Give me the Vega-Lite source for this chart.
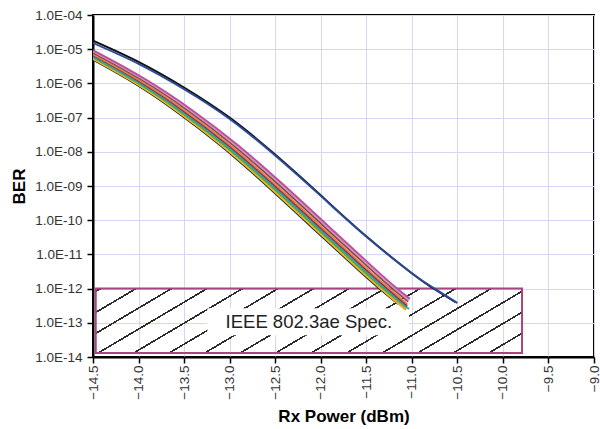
{
  "$schema": "https://vega.github.io/schema/vega-lite/v6.json",
  "width": 501,
  "height": 342,
  "autosize": {"type": "none"},
  "padding": {"left": 93, "top": 15, "right": 6, "bottom": 72},
  "background": "white",
  "config": {
    "font": "Liberation Sans",
    "view": {"stroke": "black", "strokeWidth": 2},
    "axis": {
      "domainColor": "black",
      "domainWidth": 2,
      "tickColor": "black",
      "tickWidth": 1.5,
      "tickSize": 6,
      "labelFontSize": 13.5,
      "labelColor": "#333333",
      "labelFont": "Liberation Sans",
      "gridColor": "#d6d6f2",
      "gridWidth": 1,
      "titleFont": "Liberation Sans",
      "titleFontSize": 17,
      "titleFontWeight": "bold",
      "titleColor": "black",
      "labelOverlap": false,
      "labelBound": false,
      "labelFlush": false
    }
  },
  "datasets": {
    "curves": [
      {"s": "B2", "x": -14.81, "y": 1.288e-5}, {"s": "B2", "x": -14.61, "y": 7.08e-6}, {"s": "B2", "x": -14.11, "y": 1.276e-6}, {"s": "B2", "x": -13.61, "y": 1.679e-7}, {"s": "B2", "x": -13.11, "y": 1.607e-8}, {"s": "B2", "x": -12.61, "y": 1.122e-9}, {"s": "B2", "x": -12.11, "y": 6.68e-11}, {"s": "B2", "x": -11.61, "y": 3.98e-12}, {"s": "B2", "x": -11.36, "y": 1.023e-12}, {"s": "B2", "x": -11.15, "y": 3.55e-13},
      {"s": "Y", "x": -14.795, "y": 1.288e-5}, {"s": "Y", "x": -14.595, "y": 7.08e-6}, {"s": "Y", "x": -14.095, "y": 1.276e-6}, {"s": "Y", "x": -13.595, "y": 1.679e-7}, {"s": "Y", "x": -13.095, "y": 1.607e-8}, {"s": "Y", "x": -12.595, "y": 1.122e-9}, {"s": "Y", "x": -12.095, "y": 6.68e-11}, {"s": "Y", "x": -11.595, "y": 3.98e-12}, {"s": "Y", "x": -11.345, "y": 1.023e-12}, {"s": "Y", "x": -11.07, "y": 2.4e-13},
      {"s": "O", "x": -14.78, "y": 1.288e-5}, {"s": "O", "x": -14.58, "y": 7.08e-6}, {"s": "O", "x": -14.08, "y": 1.276e-6}, {"s": "O", "x": -13.58, "y": 1.679e-7}, {"s": "O", "x": -13.08, "y": 1.607e-8}, {"s": "O", "x": -12.58, "y": 1.122e-9}, {"s": "O", "x": -12.08, "y": 6.68e-11}, {"s": "O", "x": -11.58, "y": 3.98e-12}, {"s": "O", "x": -11.33, "y": 1.023e-12}, {"s": "O", "x": -11.06, "y": 2.4e-13},
      {"s": "G", "x": -14.765, "y": 1.288e-5}, {"s": "G", "x": -14.565, "y": 7.08e-6}, {"s": "G", "x": -14.065, "y": 1.276e-6}, {"s": "G", "x": -13.565, "y": 1.679e-7}, {"s": "G", "x": -13.065, "y": 1.607e-8}, {"s": "G", "x": -12.565, "y": 1.122e-9}, {"s": "G", "x": -12.065, "y": 6.68e-11}, {"s": "G", "x": -11.565, "y": 3.98e-12}, {"s": "G", "x": -11.315, "y": 1.023e-12}, {"s": "G", "x": -11.06, "y": 2.82e-13},
      {"s": "T", "x": -14.745, "y": 1.288e-5}, {"s": "T", "x": -14.545, "y": 7.08e-6}, {"s": "T", "x": -14.045, "y": 1.276e-6}, {"s": "T", "x": -13.545, "y": 1.679e-7}, {"s": "T", "x": -13.045, "y": 1.607e-8}, {"s": "T", "x": -12.545, "y": 1.122e-9}, {"s": "T", "x": -12.045, "y": 6.68e-11}, {"s": "T", "x": -11.545, "y": 3.98e-12}, {"s": "T", "x": -11.295, "y": 1.023e-12}, {"s": "T", "x": -11.03, "y": 2.51e-13},
      {"s": "DR", "x": -14.72, "y": 1.288e-5}, {"s": "DR", "x": -14.52, "y": 7.08e-6}, {"s": "DR", "x": -14.02, "y": 1.276e-6}, {"s": "DR", "x": -13.52, "y": 1.679e-7}, {"s": "DR", "x": -13.02, "y": 1.607e-8}, {"s": "DR", "x": -12.52, "y": 1.122e-9}, {"s": "DR", "x": -12.02, "y": 6.68e-11}, {"s": "DR", "x": -11.52, "y": 3.98e-12}, {"s": "DR", "x": -11.27, "y": 1.023e-12}, {"s": "DR", "x": -11.05, "y": 3.16e-13},
      {"s": "S", "x": -14.7, "y": 1.288e-5}, {"s": "S", "x": -14.5, "y": 7.08e-6}, {"s": "S", "x": -14.0, "y": 1.276e-6}, {"s": "S", "x": -13.5, "y": 1.679e-7}, {"s": "S", "x": -13.0, "y": 1.607e-8}, {"s": "S", "x": -12.5, "y": 1.122e-9}, {"s": "S", "x": -12.0, "y": 6.68e-11}, {"s": "S", "x": -11.5, "y": 3.98e-12}, {"s": "S", "x": -11.25, "y": 1.023e-12}, {"s": "S", "x": -11.05, "y": 3.55e-13},
      {"s": "BR", "x": -14.665, "y": 1.288e-5}, {"s": "BR", "x": -14.465, "y": 7.08e-6}, {"s": "BR", "x": -13.965, "y": 1.276e-6}, {"s": "BR", "x": -13.465, "y": 1.679e-7}, {"s": "BR", "x": -12.965, "y": 1.607e-8}, {"s": "BR", "x": -12.465, "y": 1.122e-9}, {"s": "BR", "x": -11.965, "y": 6.68e-11}, {"s": "BR", "x": -11.465, "y": 3.98e-12}, {"s": "BR", "x": -11.215, "y": 1.023e-12}, {"s": "BR", "x": -11.04, "y": 4.17e-13},
      {"s": "P", "x": -14.64, "y": 1.288e-5}, {"s": "P", "x": -14.44, "y": 7.08e-6}, {"s": "P", "x": -13.94, "y": 1.276e-6}, {"s": "P", "x": -13.44, "y": 1.679e-7}, {"s": "P", "x": -12.94, "y": 1.607e-8}, {"s": "P", "x": -12.44, "y": 1.122e-9}, {"s": "P", "x": -11.94, "y": 6.68e-11}, {"s": "P", "x": -11.44, "y": 3.98e-12}, {"s": "P", "x": -11.19, "y": 1.023e-12}, {"s": "P", "x": -11.03, "y": 4.47e-13},
      {"s": "M", "x": -14.615, "y": 1.288e-5}, {"s": "M", "x": -14.415, "y": 7.08e-6}, {"s": "M", "x": -13.915, "y": 1.276e-6}, {"s": "M", "x": -13.415, "y": 1.679e-7}, {"s": "M", "x": -12.915, "y": 1.607e-8}, {"s": "M", "x": -12.415, "y": 1.122e-9}, {"s": "M", "x": -11.915, "y": 6.68e-11}, {"s": "M", "x": -11.415, "y": 3.98e-12}, {"s": "M", "x": -11.165, "y": 1.023e-12}, {"s": "M", "x": -11.02, "y": 5.01e-13},
      {"s": "K", "x": -14.5, "y": 1.78e-5}, {"s": "K", "x": -14.0, "y": 4.27e-6}, {"s": "K", "x": -13.5, "y": 7.59e-7}, {"s": "K", "x": -13.0, "y": 1.0e-7}, {"s": "K", "x": -12.5, "y": 8.32e-9}, {"s": "K", "x": -12.0, "y": 5.37e-10}, {"s": "K", "x": -11.5, "y": 3.39e-11}, {"s": "K", "x": -11.0, "y": 2.82e-12}, {"s": "K", "x": -10.75, "y": 9.55e-13}, {"s": "K", "x": -10.52, "y": 3.98e-13},
      {"s": "BL", "x": -14.5, "y": 1.51e-5}, {"s": "BL", "x": -14.0, "y": 3.72e-6}, {"s": "BL", "x": -13.5, "y": 6.76e-7}, {"s": "BL", "x": -13.0, "y": 9.12e-8}, {"s": "BL", "x": -12.5, "y": 7.76e-9}, {"s": "BL", "x": -12.0, "y": 5.13e-10}, {"s": "BL", "x": -11.5, "y": 3.31e-11}, {"s": "BL", "x": -11.0, "y": 2.82e-12}, {"s": "BL", "x": -10.75, "y": 1.0e-12}, {"s": "BL", "x": -10.5, "y": 3.8e-13}
    ],
    "spec": [{"x": -14.47, "x2": -9.79, "y": 1.0e-12, "y2": 1.3e-14}],
    "labelbox": [{"x": -13.245, "x2": -11.03, "y": 2.66e-13, "y2": 4.3e-14}],
    "label": [{"x": -12.13, "y": 1.03e-13, "text": "IEEE 802.3ae Spec."}]
  },
  "encoding": {
    "x": {
      "field": "x", "type": "quantitative",
      "scale": {"domain": [-14.5, -9.0], "nice": false, "zero": false},
      "axis": {
        "title": "Rx Power (dBm)",
        "values": [-14.5, -14.0, -13.5, -13.0, -12.5, -12.0, -11.5, -11.0, -10.5, -10.0, -9.5, -9.0],
        "format": ".1f",
        "labelAngle": -90,
        "labelPadding": 2,
        "titlePadding": 9
      }
    },
    "y": {
      "field": "y", "type": "quantitative",
      "scale": {"type": "log", "domain": [1e-14, 1e-4], "nice": false},
      "axis": {
        "title": "BER",
        "values": [1e-14, 1e-13, 1e-12, 1e-11, 1e-10, 1e-9, 1e-8, 1e-7, 1e-6, 1e-5, 1e-4],
        "labelExpr": "'1.0E-' + (datum.value > 5e-10 ? '0' : '') + format(round(-log(datum.value)/LN10), 'd')",
        "labelPadding": 5,
        "titlePadding": 6
      }
    }
  },
  "layer": [
    {
      "data": {"name": "spec"},
      "mark": {
        "type": "rect",
        "stroke": "#a8457f",
        "strokeWidth": 2,
        "fill": {
          "gradient": "linear", "x1": 0, "y1": 0, "x2": 1.212, "y2": 0.31,
          "stops": [
            {"offset": 0, "color": "rgba(255,255,255,0)"},
            {"offset": 0.0057, "color": "rgba(255,255,255,0)"}, {"offset": 0.0057, "color": "#2a2a2a"}, {"offset": 0.0115, "color": "#2a2a2a"}, {"offset": 0.0115, "color": "rgba(255,255,255,0)"},
            {"offset": 0.0702, "color": "rgba(255,255,255,0)"}, {"offset": 0.0702, "color": "#2a2a2a"}, {"offset": 0.076, "color": "#2a2a2a"}, {"offset": 0.076, "color": "rgba(255,255,255,0)"},
            {"offset": 0.1347, "color": "rgba(255,255,255,0)"}, {"offset": 0.1347, "color": "#2a2a2a"}, {"offset": 0.1405, "color": "#2a2a2a"}, {"offset": 0.1405, "color": "rgba(255,255,255,0)"},
            {"offset": 0.1992, "color": "rgba(255,255,255,0)"}, {"offset": 0.1992, "color": "#2a2a2a"}, {"offset": 0.205, "color": "#2a2a2a"}, {"offset": 0.205, "color": "rgba(255,255,255,0)"},
            {"offset": 0.2637, "color": "rgba(255,255,255,0)"}, {"offset": 0.2637, "color": "#2a2a2a"}, {"offset": 0.2695, "color": "#2a2a2a"}, {"offset": 0.2695, "color": "rgba(255,255,255,0)"},
            {"offset": 0.3282, "color": "rgba(255,255,255,0)"}, {"offset": 0.3282, "color": "#2a2a2a"}, {"offset": 0.334, "color": "#2a2a2a"}, {"offset": 0.334, "color": "rgba(255,255,255,0)"},
            {"offset": 0.3927, "color": "rgba(255,255,255,0)"}, {"offset": 0.3927, "color": "#2a2a2a"}, {"offset": 0.3985, "color": "#2a2a2a"}, {"offset": 0.3985, "color": "rgba(255,255,255,0)"},
            {"offset": 0.4572, "color": "rgba(255,255,255,0)"}, {"offset": 0.4572, "color": "#2a2a2a"}, {"offset": 0.463, "color": "#2a2a2a"}, {"offset": 0.463, "color": "rgba(255,255,255,0)"},
            {"offset": 0.5217, "color": "rgba(255,255,255,0)"}, {"offset": 0.5217, "color": "#2a2a2a"}, {"offset": 0.5275, "color": "#2a2a2a"}, {"offset": 0.5275, "color": "rgba(255,255,255,0)"},
            {"offset": 0.5862, "color": "rgba(255,255,255,0)"}, {"offset": 0.5862, "color": "#2a2a2a"}, {"offset": 0.592, "color": "#2a2a2a"}, {"offset": 0.592, "color": "rgba(255,255,255,0)"},
            {"offset": 0.6507, "color": "rgba(255,255,255,0)"}, {"offset": 0.6507, "color": "#2a2a2a"}, {"offset": 0.6565, "color": "#2a2a2a"}, {"offset": 0.6565, "color": "rgba(255,255,255,0)"},
            {"offset": 0.7152, "color": "rgba(255,255,255,0)"}, {"offset": 0.7152, "color": "#2a2a2a"}, {"offset": 0.721, "color": "#2a2a2a"}, {"offset": 0.721, "color": "rgba(255,255,255,0)"},
            {"offset": 0.7797, "color": "rgba(255,255,255,0)"}, {"offset": 0.7797, "color": "#2a2a2a"}, {"offset": 0.7855, "color": "#2a2a2a"}, {"offset": 0.7855, "color": "rgba(255,255,255,0)"},
            {"offset": 0.8442, "color": "rgba(255,255,255,0)"}, {"offset": 0.8442, "color": "#2a2a2a"}, {"offset": 0.85, "color": "#2a2a2a"}, {"offset": 0.85, "color": "rgba(255,255,255,0)"},
            {"offset": 0.9087, "color": "rgba(255,255,255,0)"}, {"offset": 0.9087, "color": "#2a2a2a"}, {"offset": 0.9145, "color": "#2a2a2a"}, {"offset": 0.9145, "color": "rgba(255,255,255,0)"},
            {"offset": 1, "color": "rgba(255,255,255,0)"}
          ]
        }
      },
      "encoding": {
        "x2": {"field": "x2"},
        "y2": {"field": "y2"}
      }
    },
    {
      "data": {"name": "labelbox"},
      "mark": {"type": "rect", "fill": "white", "stroke": null},
      "encoding": {
        "x2": {"field": "x2"},
        "y2": {"field": "y2"}
      }
    },
    {
      "data": {"name": "label"},
      "mark": {"type": "text", "fontSize": 18.5, "font": "Liberation Sans", "color": "#222222", "align": "center", "baseline": "middle"},
      "encoding": {"text": {"field": "text"}}
    },
    {
      "data": {"name": "curves"},
      "mark": {"type": "line", "interpolate": "natural", "strokeWidth": 1.9, "clip": true},
      "encoding": {
        "color": {
          "field": "s", "type": "nominal", "legend": null,
          "scale": {
            "domain": ["B2", "Y", "O", "G", "T", "DR", "S", "BR", "P", "M", "K", "BL"],
            "range": ["#222222", "#e0d030", "#f0a020", "#58a848", "#20a8b0", "#9a2a2a", "#e87860", "#7a4a30", "#d890c8", "#b8509a", "#111111", "#2a4a9a"]
          }
        }
      }
    }
  ]
}
